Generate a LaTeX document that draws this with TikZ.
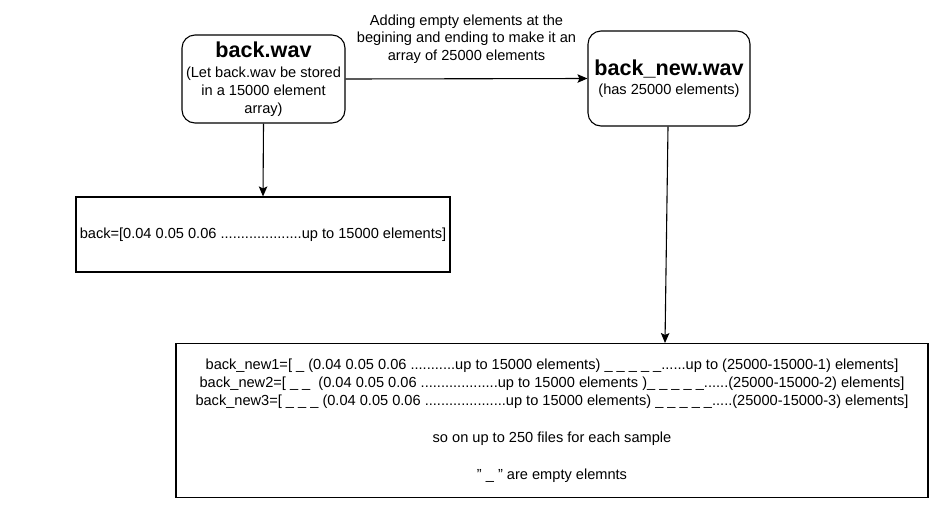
\documentclass[tikz,border=0pt]{standalone}
\usepackage{fontspec}
\setmainfont{Liberation Sans}
\usetikzlibrary{arrows.meta}

\begin{document}
\begin{tikzpicture}[
          x=1pt, y=-1pt,
          txt/.style={font=\fontsize{14.6}{17.9}\selectfont},
          wavfile/.style={
            draw, rounded corners=13pt, line width=1.1pt,
            align=center, inner sep=0pt, txt
          },
          arrbox/.style={draw, line width=1.1pt, align=center, inner sep=0pt, txt},
          flow/.style={-{Stealth[length=10pt,width=8.5pt,inset=2pt]}, line width=1.1pt},
        ]
          \useasboundingbox (0,0) rectangle (949,512);
          \newcommand{\wavtitle}[1]{{\fontsize{21.6}{24}\selectfont\bfseries #1}}

          % Wave files
          \node[wavfile, minimum width=163pt, minimum height=88pt] (backwav) at (263.5,79)
            {\wavtitle{back.wav}\\[2pt](Let back.wav be stored\\in a 15000 element\\array)};
          \node[wavfile, minimum width=162pt, minimum height=95pt] (newwav) at (669,78.5)
            {\wavtitle{back\_new.wav}\\[1pt](has 25000 elements)};

          % Arrays
          \node[arrbox, minimum width=374pt, minimum height=75pt] (backarr) at (263,234.5)
            {back=[0.04 0.05 0.06 ....................up to 15000 elements]};
          \node[arrbox, font=\fontsize{14.6}{18.4}\selectfont,
                minimum width=752pt, minimum height=154pt] (newarr) at (552,420.5)
            {back\_new1=[ \_ (0.04 0.05 0.06 ...........up to 15000 elements) \_ \_ \_ \_ \_......up to (25000-15000-1) elements]\\
             back\_new2=[ \_ \_ \ (0.04 0.05 0.06 ...................up to 15000 elements )\_ \_ \_ \_ \_......(25000-15000-2) elements]\\
             back\_new3=[ \_ \_ \_ (0.04 0.05 0.06 ....................up to 15000 elements) \_ \_ \_ \_ \_.....(25000-15000-3) elements]\\
             \strut\\
             so on up to 250 files for each sample\\
             \strut\\
             \symbol{"22} \_ \symbol{"22} are empty elemnts};
          \coordinate (hit) at (665,343);

          % Arrows
          \draw[flow] (backwav.east) -- (newwav.west)
            node[midway, above=11pt, txt, align=center] (padnote)
            {Adding empty elements at the\\begining and ending to make it an\\array of 25000 elements};
          \draw[flow] (backwav.south) -- (backarr.north);
          \draw[flow] (newwav.south -| 668,0) -- (hit);
        \end{tikzpicture}
\end{document}
